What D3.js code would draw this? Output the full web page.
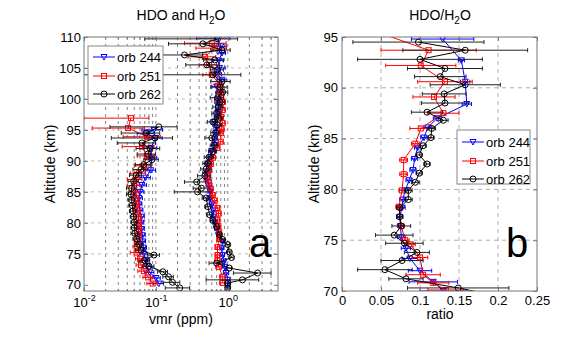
<!DOCTYPE html>
<html>
<head>
<meta charset="utf-8">
<script src="https://cdn.jsdelivr.net/npm/d3@7"></script>
<style>
body { margin:0; background:#fff; }
svg { font-family:"Liberation Sans", Arial, sans-serif; }
</style>
</head>
<body>
<div id="chart-area"></div>
<script>

var orbits = ['orb 244','orb 251','orb 262'];

// panel a : HDO (ppm)
var hdoAlt244 = [95.0,94.4,93.7,92.1,90.5,88.5,87.3,86.1,85.0,84.0,83.0,82.0,81.0,80.0,79.0,78.0,77.0,76.0,75.0,74.0,73.0,72.0,71.1,70.2];
var hdoVal244 = [0.094,0.075,0.100,0.085,0.088,0.085,0.072,0.064,0.060,0.058,0.058,0.060,0.063,0.062,0.063,0.065,0.066,0.067,0.068,0.072,0.075,0.082,0.100,0.110];
var hdoErr244 = [0.030,0.020,0.022,0.018,0.015,0.014,0.012,0.010,0.008,0.007,0.006,0.006,0.006,0.006,0.006,0.006,0.006,0.007,0.008,0.009,0.010,0.012,0.015,0.018];

var hdoAlt251 = [96.9,95.3,93.9,92.3,90.8,89.2,88.0,87.0,86.0,85.0,84.0,83.0,82.0,81.0,80.0,79.0,78.0,77.0,76.2,75.2,74.2,73.2,72.2,71.2,70.2];
var hdoVal251 = [0.045,0.041,0.075,0.064,0.075,0.068,0.058,0.052,0.050,0.050,0.052,0.054,0.055,0.057,0.058,0.058,0.057,0.056,0.055,0.054,0.060,0.062,0.068,0.078,0.090];
var hdoErr251 = [0.035,0.028,0.040,0.030,0.020,0.018,0.014,0.012,0.010,0.008,0.007,0.006,0.006,0.006,0.006,0.006,0.006,0.006,0.007,0.010,0.008,0.009,0.012,0.012,0.015];

var hdoAlt262 = [95.5,94.5,93.7,92.9,92.0,91.1,90.2,89.4,88.6,87.7,86.7,85.6,84.6,83.7,82.8,81.9,81.0,80.1,79.2,78.3,77.4,76.5,75.6,74.8,73.9,73.0,72.1,71.3,70.4,69.5];
var hdoVal262 = [0.110,0.073,0.097,0.064,0.083,0.077,0.088,0.068,0.062,0.053,0.049,0.046,0.045,0.046,0.047,0.048,0.049,0.050,0.050,0.051,0.054,0.058,0.062,0.094,0.070,0.080,0.125,0.150,0.170,0.215];
var hdoErr262 = [0.087,0.040,0.073,0.035,0.030,0.022,0.020,0.016,0.014,0.010,0.008,0.007,0.006,0.005,0.005,0.005,0.005,0.005,0.005,0.006,0.006,0.007,0.010,0.018,0.012,0.014,0.020,0.025,0.045,0.080];

// panel a : H2O (ppm)
var h2oAlt244 = [109.8,108.5,107.4,106.2,105.0,104.0,103.1,102.0,101.0,100.0,99.0,98.0,97.1,96.3,95.4,94.5,93.5,92.6,91.6,90.6,89.5,88.1,87.0,86.0,85.0,84.0,83.0,82.0,81.0,80.0,79.0,78.0,77.0,75.9,74.8,73.8,72.9,71.9,70.8,69.8];
var h2oVal244 = [0.72,0.80,0.83,0.75,0.77,0.72,0.83,0.70,0.78,0.74,0.76,0.74,0.72,0.66,0.70,0.70,0.66,0.66,0.60,0.58,0.54,0.51,0.52,0.55,0.57,0.56,0.60,0.63,0.64,0.66,0.70,0.74,0.85,0.82,0.85,0.88,0.91,0.95,1.00,1.00];
var h2oErr244 = [0.35,0.15,0.10,0.12,0.15,0.10,0.12,0.10,0.10,0.08,0.08,0.07,0.07,0.06,0.06,0.06,0.05,0.05,0.05,0.05,0.05,0.06,0.05,0.05,0.04,0.04,0.04,0.04,0.04,0.04,0.04,0.04,0.05,0.05,0.05,0.06,0.07,0.08,0.08,0.08];

var h2oAlt251 = [109.0,108.2,106.8,105.5,103.9,102.3,101.2,100.2,99.5,98.2,97.1,96.1,95.1,94.5,93.1,92.1,90.5,89.5,88.5,87.5,86.5,85.5,84.5,83.6,82.4,81.5,80.5,79.5,78.5,77.4,76.1,74.8,73.9,72.9,71.3,70.3];
var h2oVal251 = [0.60,0.66,0.48,0.55,0.60,0.77,0.80,0.80,0.85,0.85,0.80,0.85,0.82,0.80,0.80,0.72,0.62,0.58,0.55,0.52,0.55,0.58,0.62,0.66,0.72,0.75,0.72,0.74,0.76,0.76,0.72,0.72,0.72,0.75,0.85,0.85];
var h2oErr251 = [0.35,0.30,0.20,0.15,0.15,0.10,0.08,0.08,0.08,0.07,0.07,0.07,0.06,0.06,0.06,0.05,0.05,0.05,0.05,0.04,0.04,0.04,0.04,0.05,0.05,0.05,0.05,0.04,0.04,0.04,0.05,0.05,0.06,0.07,0.08,0.08];

var h2oAlt262 = [109.7,108.9,107.9,107.1,106.3,105.5,104.7,103.9,102.8,101.9,101.1,100.2,99.5,98.7,97.7,96.9,96.3,95.8,94.6,93.7,92.5,91.5,90.6,89.6,88.7,87.6,86.6,85.6,85.0,84.0,82.6,81.3,80.4,79.4,78.1,77.3,76.5,75.3,74.4,73.5,72.7,71.9,70.8,70.3,69.5];
var h2oVal262 = [0.72,0.45,0.83,0.25,0.66,0.51,0.72,0.62,0.83,0.78,0.85,0.72,0.78,0.74,0.70,0.75,0.62,0.72,0.68,0.60,0.65,0.62,0.55,0.52,0.50,0.48,0.37,0.43,0.38,0.50,0.53,0.56,0.62,0.70,0.77,0.85,1.00,1.05,1.13,0.70,1.05,2.60,1.60,1.00,1.00];
var h2oErr262 = [0.65,0.30,0.25,0.20,0.20,0.25,0.15,0.90,0.25,0.20,0.15,0.15,0.12,0.12,0.10,0.10,0.10,0.10,0.10,0.12,0.08,0.08,0.08,0.07,0.08,0.10,0.12,0.10,0.20,0.06,0.05,0.05,0.05,0.05,0.05,0.05,0.06,0.06,0.06,0.15,0.08,1.40,1.10,0.08,0.05];

// panel b : HDO/H2O ratio
var ratAlt244 = [94.8,92.7,90.6,88.4,87.0,86.1,85.1,84.1,83.0,81.9,80.9,79.9,79.0,78.2,77.3,76.4,75.3,74.2,73.2,72.0,70.9,70.0];
var ratVal244 = [0.129,0.153,0.158,0.160,0.122,0.110,0.105,0.097,0.093,0.091,0.086,0.081,0.078,0.077,0.074,0.075,0.076,0.082,0.087,0.100,0.117,0.130];
var ratErr244 = [0.040,0.004,0.006,0.006,0.005,0.005,0.004,0.004,0.004,0.004,0.004,0.004,0.004,0.004,0.004,0.004,0.005,0.006,0.010,0.015,0.031,0.030];

var ratAlt251 = [95.5,93.7,92.2,90.6,89.1,87.5,86.0,84.5,82.9,81.5,79.9,78.3,76.4,75.0,74.6,73.3,71.6,70.8,70.1];
var ratVal251 = [0.045,0.111,0.101,0.132,0.118,0.130,0.101,0.094,0.079,0.079,0.077,0.073,0.076,0.081,0.088,0.100,0.104,0.117,0.133];
var ratErr251 = [0.030,0.061,0.045,0.035,0.027,0.020,0.014,0.005,0.005,0.005,0.004,0.004,0.004,0.005,0.006,0.010,0.022,0.020,0.023];

var ratAlt262 = [94.5,93.7,92.8,91.9,91.1,90.3,89.4,88.5,87.6,86.8,86.0,85.1,84.3,83.4,82.5,81.6,80.7,79.9,79.0,78.2,77.3,76.4,75.5,74.7,73.8,73.0,72.1,71.2,70.3,69.5];
var ratVal262 = [0.098,0.158,0.100,0.132,0.126,0.158,0.131,0.132,0.109,0.130,0.115,0.114,0.104,0.099,0.109,0.099,0.094,0.085,0.085,0.074,0.074,0.076,0.067,0.080,0.096,0.077,0.055,0.082,0.149,0.200];
var ratErr262 = [0.084,0.080,0.080,0.048,0.033,0.045,0.028,0.030,0.020,0.006,0.005,0.004,0.004,0.004,0.004,0.004,0.005,0.005,0.005,0.004,0.004,0.012,0.024,0.024,0.016,0.027,0.035,0.022,0.065,0.070];

var colors = ['#0000ff','#ff0000','#000000'];
var errColors = ['#0000ff','#ff0000','#222222'];
var markers = ['tri','sq','circ'];

function zipSeries(alt, val, err){
  return alt.map(function(a,i){ return {alt:a, v:val[i], e:err[i]}; });
}

var svg = d3.select('#chart-area').append('svg')
            .attr("width",567)
            .attr("height",349);

function drawMarker(g, type, x, y, color){
  if(type=='tri'){
    g.append('path').attr('d','M'+(x-3)+','+(y-2.5)+'L'+(x+3)+','+(y-2.5)+'L'+x+','+(y+3)+'Z')
     .attr('fill','none').attr('stroke',color).attr('stroke-width',1);
  } else if(type=='sq'){
    g.append('rect').attr('x',x-2.5).attr('y',y-2.5).attr('width',5).attr('height',5)
     .attr('fill','none').attr('stroke',color).attr('stroke-width',1);
  } else {
    g.append('circle').attr('cx',x).attr('cy',y).attr('r',3)
     .attr('fill','none').attr('stroke',color).attr('stroke-width',1);
  }
}

function drawSeries(g, data, x, y, k, xmin){
  var line = d3.line().x(function(d){return x(d.v);}).y(function(d){return y(d.alt);});
  data.forEach(function(d){
    var x0 = x(Math.max(d.v-d.e, xmin)), x1 = x(d.v+d.e), yy = y(d.alt);
    g.append('line').attr('x1',x0).attr('x2',x1).attr('y1',yy).attr('y2',yy)
     .attr('stroke',errColors[k]).attr('stroke-width',1);
    [x0,x1].forEach(function(xc){
      g.append('line').attr('x1',xc).attr('x2',xc).attr('y1',yy-2).attr('y2',yy+2)
       .attr('stroke',errColors[k]).attr('stroke-width',1);
    });
  });
  g.append('path').datum(data).attr('d',line).attr('fill','none')
   .attr('stroke',colors[k]).attr('stroke-width',1);
  data.forEach(function(d){ drawMarker(g, markers[k], x(d.v), y(d.alt), colors[k]); });
}

function legend(x0, y0, w, h, rows){
  var lg = svg.append('g');
  lg.append('rect').attr('x',x0).attr('y',y0).attr('width',w).attr('height',h)
    .attr('fill','#fff').attr('stroke','#888').attr('stroke-width',1);
  orbits.forEach(function(name,k){
    var yy = rows[k];
    lg.append('line').attr('x1',x0+5).attr('x2',x0+27).attr('y1',yy).attr('y2',yy)
      .attr('stroke',colors[k]).attr('stroke-width',1);
    drawMarker(lg, markers[k], x0+16, yy, colors[k]);
    lg.append('text').attr('x',x0+29).attr('y',yy+4.5).attr('font-size','13px').text(name);
  });
}

function subTitle(x, y, pre, post){
  var t = svg.append('text').attr('x',x).attr('y',y).attr('text-anchor','middle').attr('font-size','14px');
  t.append('tspan').text(pre);
  t.append('tspan').attr('dy',4).attr('font-size','10px').text('2');
  t.append('tspan').attr('dy',-4).text(post);
}

// ---------- panel a ----------
var L = {l:84, r:278, t:37, b:291};
var xa = d3.scaleLog().domain([0.01,5]).range([L.l,L.r]);
var ya = d3.scaleLinear().domain([69,110]).range([L.b,L.t]);

var ga = svg.append('g');
ga.append('clipPath').attr('id','clipa').append('rect')
  .attr('x',L.l).attr('y',L.t).attr('width',L.r-L.l).attr('height',L.b-L.t);

var minorA = [];
[0.01,0.1,1].forEach(function(dec){
  for(var m=1;m<10;m++){ if(dec*m<5) minorA.push(dec*m); }
});
var yTicksA = d3.range(70,111,5);

ga.selectAll('.vg').data(minorA.filter(function(v){return v>0.01;})).enter().append('line')
  .attr('x1',function(d){return xa(d);}).attr('x2',function(d){return xa(d);})
  .attr('y1',L.t).attr('y2',L.b)
  .attr('stroke','#666').attr('stroke-width',0.8).attr('stroke-dasharray','3,4');
ga.selectAll('.hg').data(yTicksA.slice(1,-1)).enter().append('line')
  .attr('x1',L.l).attr('x2',L.r)
  .attr('y1',function(d){return ya(d);}).attr('y2',function(d){return ya(d);})
  .attr('stroke','#aaa').attr('stroke-width',0.8).attr('stroke-dasharray','3,4');

var plotA = ga.append('g').attr('clip-path','url(#clipa)');
var hdo = [zipSeries(hdoAlt244,hdoVal244,hdoErr244), zipSeries(hdoAlt251,hdoVal251,hdoErr251), zipSeries(hdoAlt262,hdoVal262,hdoErr262)];
var h2o = [zipSeries(h2oAlt244,h2oVal244,h2oErr244), zipSeries(h2oAlt251,h2oVal251,h2oErr251), zipSeries(h2oAlt262,h2oVal262,h2oErr262)];
[0,1,2].forEach(function(k){
  drawSeries(plotA, hdo[k], xa, ya, k, 0.005);
  drawSeries(plotA, h2o[k], xa, ya, k, 0.005);
});

ga.append('rect').attr('x',L.l).attr('y',L.t).attr('width',L.r-L.l).attr('height',L.b-L.t)
  .attr('fill','none').attr('stroke','#777').attr('stroke-width',1);

// ticks a
ga.append('g').attr('transform','translate('+L.l+',0)')
  .call(d3.axisLeft(ya).tickValues(yTicksA).tickSizeInner(-4).tickSizeOuter(0).tickPadding(3))
  .call(function(g){ g.select('.domain').remove(); g.selectAll('text').attr('font-size','13px').attr('fill','#000'); g.selectAll('line').attr('stroke','#777'); g.attr('font-family',null); });
ga.append('g').attr('transform','translate('+L.r+',0)')
  .call(d3.axisRight(ya).tickValues(yTicksA).tickSizeInner(-4).tickSizeOuter(0).tickFormat(''))
  .call(function(g){ g.select('.domain').remove(); g.selectAll('line').attr('stroke','#777'); });
ga.append('g').attr('transform','translate(0,'+L.b+')')
  .call(d3.axisBottom(xa).tickValues([0.01,0.1,1]).tickSizeInner(-4).tickSizeOuter(0).tickPadding(7))
  .call(function(g){
    g.select('.domain').remove(); g.selectAll('line').attr('stroke','#777'); g.attr('font-family',null);
    g.selectAll('text').attr('font-size','13px').attr('fill','#000').each(function(d){
      var t = d3.select(this); t.text(null);
      t.append('tspan').text('10');
      t.append('tspan').attr('dy',-6).attr('font-size','9px').text(String(Math.round(Math.log10(d))));
    });
  });
ga.append('g').attr('transform','translate(0,'+L.t+')')
  .call(d3.axisTop(xa).tickValues([0.01,0.1,1]).tickSizeInner(-4).tickSizeOuter(0).tickFormat(''))
  .call(function(g){ g.select('.domain').remove(); g.selectAll('line').attr('stroke','#777'); });
// minor ticks
[L.b, L.t].forEach(function(yb){
  ga.selectAll(null).data(minorA).enter().append('line')
    .attr('x1',function(d){return xa(d);}).attr('x2',function(d){return xa(d);})
    .attr('y1',yb).attr('y2',yb==L.b? yb-2 : yb+2).attr('stroke','#777');
});

subTitle(181, 20, 'HDO and H', 'O');
svg.append('text').attr('x',181).attr('y',324).attr('text-anchor','middle').attr('font-size','14px').text('vmr (ppm)');
svg.append('text').attr('transform','translate(55,164) rotate(-90)').attr('text-anchor','middle').attr('font-size','14px').text('Altitude (km)');
svg.append('text').attr('x',249).attr('y',257).attr('font-size','40px').text('a');
legend(88, 46, 75, 58, [57,76,94]);

// ---------- panel b ----------
var R = {l:342, r:537, t:37, b:291};
var xb = d3.scaleLinear().domain([0,0.25]).range([R.l,R.r]);
var yb = d3.scaleLinear().domain([70,95]).range([R.b,R.t]);
var xTicksB = [0,0.05,0.1,0.15,0.2,0.25];
var yTicksB = [70,75,80,85,90,95];

var gb = svg.append('g');
gb.append('clipPath').attr('id','clipb').append('rect')
  .attr('x',R.l).attr('y',R.t).attr('width',R.r-R.l).attr('height',R.b-R.t);
gb.selectAll('.vg').data(xTicksB.slice(1,-1)).enter().append('line')
  .attr('x1',function(d){return xb(d);}).attr('x2',function(d){return xb(d);})
  .attr('y1',R.t).attr('y2',R.b)
  .attr('stroke','#999').attr('stroke-width',0.8).attr('stroke-dasharray','4,4');
gb.selectAll('.hg').data(yTicksB.slice(1,-1)).enter().append('line')
  .attr('x1',R.l).attr('x2',R.r)
  .attr('y1',function(d){return yb(d);}).attr('y2',function(d){return yb(d);})
  .attr('stroke','#999').attr('stroke-width',0.8).attr('stroke-dasharray','4,4');

var plotB = gb.append('g').attr('clip-path','url(#clipb)');
var rat = [zipSeries(ratAlt244,ratVal244,ratErr244), zipSeries(ratAlt251,ratVal251,ratErr251), zipSeries(ratAlt262,ratVal262,ratErr262)];
[0,1,2].forEach(function(k){ drawSeries(plotB, rat[k], xb, yb, k, -1); });

gb.append('rect').attr('x',R.l).attr('y',R.t).attr('width',R.r-R.l).attr('height',R.b-R.t)
  .attr('fill','none').attr('stroke','#777').attr('stroke-width',1);

gb.append('g').attr('transform','translate('+R.l+',0)')
  .call(d3.axisLeft(yb).tickValues(yTicksB).tickSizeInner(-4).tickSizeOuter(0).tickPadding(4))
  .call(function(g){ g.select('.domain').remove(); g.selectAll('text').attr('font-size','13px').attr('fill','#000'); g.selectAll('line').attr('stroke','#777'); g.attr('font-family',null); });
gb.append('g').attr('transform','translate('+R.r+',0)')
  .call(d3.axisRight(yb).tickValues(yTicksB).tickSizeInner(-4).tickSizeOuter(0).tickFormat(''))
  .call(function(g){ g.select('.domain').remove(); g.selectAll('line').attr('stroke','#777'); });
gb.append('g').attr('transform','translate(0,'+R.b+')')
  .call(d3.axisBottom(xb).tickValues(xTicksB).tickSizeInner(-4).tickSizeOuter(0).tickPadding(5).tickFormat(function(d){return String(+d.toFixed(2));}))
  .call(function(g){ g.select('.domain').remove(); g.selectAll('text').attr('font-size','13px').attr('fill','#000'); g.selectAll('line').attr('stroke','#777'); g.attr('font-family',null); });
gb.append('g').attr('transform','translate(0,'+R.t+')')
  .call(d3.axisTop(xb).tickValues(xTicksB).tickSizeInner(-4).tickSizeOuter(0).tickFormat(''))
  .call(function(g){ g.select('.domain').remove(); g.selectAll('line').attr('stroke','#777'); });

subTitle(440, 20, 'HDO/H', 'O');
svg.append('text').attr('x',440).attr('y',319).attr('text-anchor','middle').attr('font-size','14px').text('ratio');
svg.append('text').attr('transform','translate(319,164) rotate(-90)').attr('text-anchor','middle').attr('font-size','14px').text('Altitude (km)');
svg.append('text').attr('x',506).attr('y',257).attr('font-size','40px').text('b');
legend(457, 130, 73, 54, [142,161,179]);

</script>
</body>
</html>
